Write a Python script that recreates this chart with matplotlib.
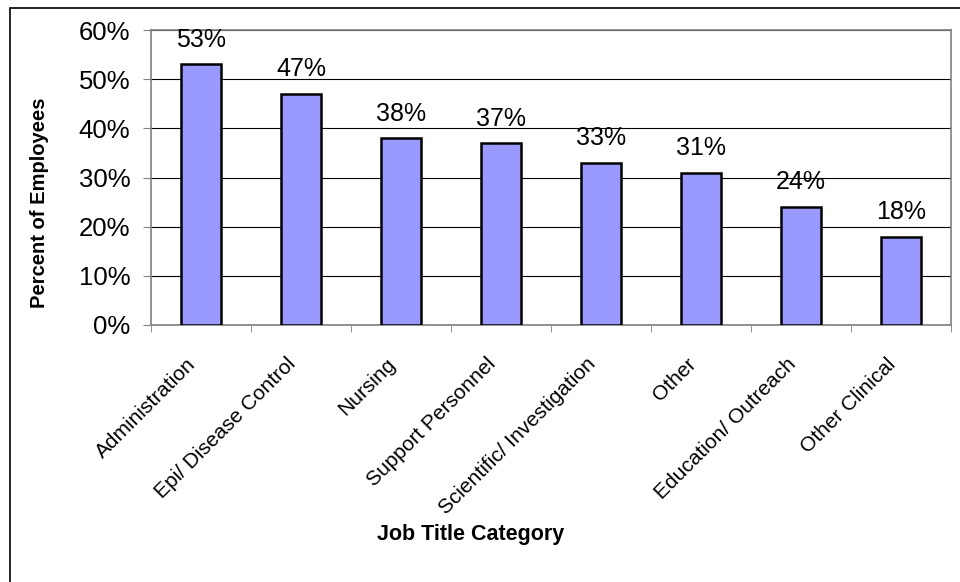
import matplotlib.pyplot as plt
from matplotlib.patches import Rectangle
from matplotlib.ticker import FixedLocator, PercentFormatter
from matplotlib.transforms import ScaledTranslation

categories = ['Administration', 'Epi/ Disease Control', 'Nursing', 'Support Personnel',
              'Scientific/ Investigation', 'Other', 'Education/ Outreach', 'Other Clinical']
percents = [53, 47, 38, 37, 33, 31, 24, 18]

plt.rcParams['font.family'] = ['Liberation Sans', 'DejaVu Sans']

fig = plt.figure(figsize=(9.6, 5.82), dpi=100)
W, H = 960, 582
ax = fig.add_axes([151 / W, 1 - 325 / H, 800 / W, 295 / H])

# cadre exterieur du graphique
fig.patches.append(Rectangle((10 / W, -0.1), 1.2, 1 - 8 / H + 0.1, transform=fig.transFigure,
                             fill=False, edgecolor='black', linewidth=1.2))

index = range(len(categories))
ax.bar(index, percents, 0.4, color='#9999FF', edgecolor='black', linewidth=1.8, zorder=3)

for i, v in zip(index, percents):
    ax.text(i, v + 5.0, f'{v}%', ha='center', va='center', fontsize=18)

ax.set_xlim(-0.5, len(categories) - 0.5)
ax.set_ylim(0, 60)
ax.set_yticks(range(0, 61, 10))
ax.yaxis.set_major_formatter(PercentFormatter(decimals=0))
ax.yaxis.grid(True, color='black', linewidth=0.8)
ax.set_axisbelow(True)

ax.set_xticks(list(index))
ax.set_xticklabels(categories, rotation=45, ha='right', va='center', rotation_mode='anchor', fontsize=15)
ax.tick_params(axis='x', length=0, pad=24)
# decalage des etiquettes vers la gauche comme dans Excel
shift = ScaledTranslation(-0.08, -0.03, fig.dpi_scale_trans)
for lab in ax.get_xticklabels():
    lab.set_transform(lab.get_transform() + shift)
ax.xaxis.set_minor_locator(FixedLocator([i - 0.5 for i in range(len(categories) + 1)]))
ax.tick_params(axis='x', which='minor', length=5, color='#808080')
ax.tick_params(axis='y', labelsize=18.5, length=6, pad=9, color='#808080')

for s in ax.spines.values():
    s.set_color('#808080')
    s.set_linewidth(1.2)

ax.set_ylabel('Percent of Employees', fontsize=14.5, fontweight='bold')
ax.yaxis.set_label_coords(-0.128, 0.414)
ax.set_xlabel('Job Title Category', fontsize=15.5, fontweight='bold')
ax.xaxis.set_label_coords(0.4, -0.675)

fig.savefig('out.png', dpi=100)
